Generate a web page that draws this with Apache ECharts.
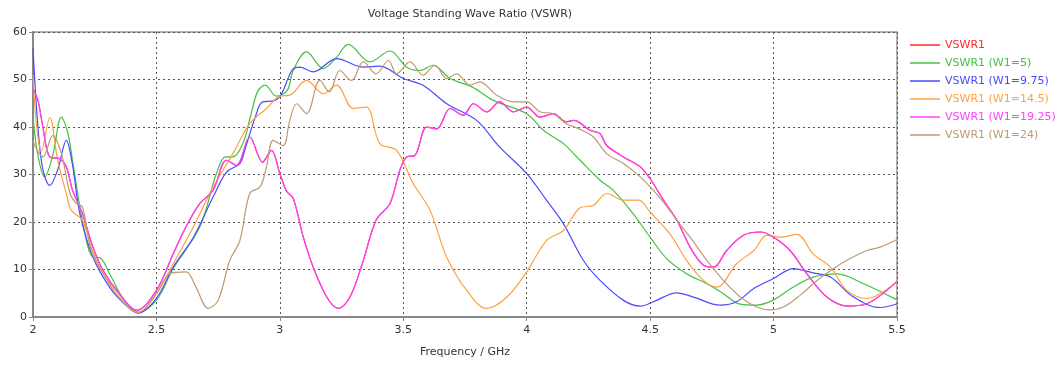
<!DOCTYPE html>
<html>
<head>
<meta charset="utf-8">
<title>VSWR</title>
<script src="https://cdn.jsdelivr.net/npm/echarts@6/dist/echarts.min.js"></script>
<style>
  html, body { margin: 0; padding: 0; background: #fff; }
  #chart { width: 1064px; height: 365px; }
</style>
</head>
<body>
<div id="chart"></div>
<script>
// 数据 (频率 GHz, VSWR) —— 从参考图读出
const xTicks = [2, 2.5, 3, 3.5, 4, 4.5, 5, 5.5];
const yTicks = [0, 10, 20, 30, 40, 50, 60];

const seriesNames = ['VSWR1', 'VSWR1 (W1=5)', 'VSWR1 (W1=9.75)', 'VSWR1 (W1=14.5)', 'VSWR1 (W1=19.25)', 'VSWR1 (W1=24)'];
const seriesColors = ['#ff2a2a', '#44c044', '#4a4aff', '#ffa040', '#ff40ff', '#c09a70'];

const w5 = [
    [2.0,42],[2.02,34],[2.047,29.5],[2.08,34],[2.115,42.1],[2.14,39],[2.16,33],[2.2,20.4],[2.243,12.6],
    [2.27,12.5],[2.31,9.1],[2.37,3.5],[2.426,1.0],[2.5,3.5],[2.568,10.2],[2.676,19],[2.743,30.2],[2.78,33.7],
    [2.81,33.7],[2.85,36.5],[2.88,42],[2.91,47.5],[2.94,48.8],[2.986,46.5],[3.03,47.7],[3.054,51.9],
    [3.108,55.8],[3.176,52.3],[3.23,54.7],[3.277,57.4],[3.365,53.7],[3.446,56],[3.514,52.6],[3.568,51.9],
    [3.62,53],[3.69,50.2],[3.78,48.4],[3.865,45.6],[4.0,42.8],[4.068,39.3],[4.149,36.5],[4.216,33],
    [4.297,28.8],[4.35,26.7],[4.43,21.8],[4.5,16.8],[4.567,12.3],[4.648,9.1],[4.73,7.0],[4.797,4.9],
    [4.865,2.7],[4.932,2.5],[5.0,3.6],[5.08,6.3],[5.16,8.4],[5.256,9.1],[5.365,7.0],[5.5,3.6]
];

const w975 = [
    [2.0,56.5],[2.02,40],[2.04,31],[2.068,27.7],[2.1,31],[2.135,37.2],[2.16,32],[2.19,21.7],[2.243,12.6],
    [2.31,6.3],[2.37,2.8],[2.426,0.8],[2.5,3.9],[2.568,10.5],[2.65,16.8],[2.73,25.3],[2.784,30.5],
    [2.838,32.3],[2.86,35.5],[2.9,42],[2.93,45.3],[2.975,45.5],[3.005,46.8],[3.05,52],[3.08,52.6],
    [3.135,51.6],[3.23,54.4],[3.338,52.6],[3.405,52.8],[3.5,50.2],[3.58,48.8],[3.676,44.9],[3.797,41.4],
    [3.89,35.8],[4.0,30.2],[4.08,24.6],[4.149,19.6],[4.23,11.9],[4.297,7.7],[4.392,3.5],[4.46,2.3],
    [4.513,3.2],[4.608,5.1],[4.675,4.2],[4.784,2.5],[4.85,3.2],[4.92,6.0],[5.0,8.1],[5.08,10.2],
    [5.16,9.3],[5.23,8.4],[5.324,4.2],[5.432,2.0],[5.5,2.8]
];

const w145 = [
    [2.0,51],[2.015,40],[2.034,35],[2.068,42],[2.1,33],[2.135,26],[2.155,22.5],[2.2,20.4],[2.236,14.7],
    [2.27,10.5],[2.324,6.3],[2.426,1.0],[2.5,4.9],[2.568,11.2],[2.65,19],[2.73,27.4],[2.81,34.4],
    [2.878,40.7],[2.946,43.9],[3.0,46.5],[3.04,46.7],[3.108,49.8],[3.176,47],[3.23,48.8],[3.297,43.9],
    [3.35,44.2],[3.405,36.5],[3.473,35.1],[3.54,28.1],[3.608,22.5],[3.676,12.6],[3.757,5.6],[3.838,1.8],
    [3.92,4.2],[4.0,9.5],[4.08,16.1],[4.149,18.2],[4.216,23],[4.27,23.5],[4.324,26],[4.392,24.6],
    [4.453,24.6],[4.5,22.1],[4.58,17.5],[4.648,11.9],[4.716,7.7],[4.77,6.3],[4.85,11.2],[4.92,14],
    [4.973,17.2],[5.027,16.8],[5.094,17.4],[5.16,13.3],[5.23,10.5],[5.297,5.6],[5.378,3.9],[5.5,7.5]
];

const w1925 = [
    [2.0,48],[2.02,45.6],[2.04,40],[2.068,33.7],[2.108,33.3],[2.135,31.6],[2.16,26.7],[2.2,21.8],
    [2.243,14.7],[2.284,9.8],[2.35,4.9],[2.42,1.4],[2.5,5.6],[2.568,13.3],[2.62,19],[2.676,23.9],
    [2.73,26.7],[2.784,33],[2.824,31.9],[2.878,37.9],[2.93,32.6],[2.966,35.1],[3.0,30.2],[3.027,26.5],
    [3.054,25],[3.095,16.8],[3.135,10.5],[3.19,4.2],[3.236,1.8],[3.284,4.2],[3.338,11.9],[3.39,20.4],
    [3.446,23.9],[3.486,30.9],[3.514,33.7],[3.547,34],[3.595,40],[3.635,39.6],[3.69,43.9],[3.743,42.5],
    [3.784,44.9],[3.838,43.2],[3.89,45.3],[3.946,43.2],[4.0,44.2],[4.054,42.1],[4.108,42.8],[4.16,41.1],
    [4.19,41.4],[4.257,39.3],[4.297,38.6],[4.324,36.1],[4.392,33.7],[4.46,31.6],[4.5,29.1],[4.554,24.6],
    [4.608,20.4],[4.662,14.7],[4.716,10.9],[4.757,10.5],[4.81,14],[4.878,17.2],[4.946,17.9],[5.0,16.8],
    [5.067,14],[5.135,9.1],[5.216,4.2],[5.297,2.3],[5.378,2.8],[5.5,7.5]
];

const w24 = [
    [2.0,37],[2.04,33.7],[2.08,38.2],[2.115,34.4],[2.15,26],[2.176,23.9],[2.2,23.2],[2.236,14],[2.284,9.1],
    [2.35,4],[2.426,1.0],[2.5,4.9],[2.554,9.1],[2.62,9.5],[2.66,6.3],[2.71,1.8],[2.75,3.5],[2.797,11.9],
    [2.838,16.1],[2.878,26],[2.92,27.4],[2.946,31.6],[2.973,37.2],[3.014,36.1],[3.04,41.4],[3.068,44.9],
    [3.108,42.8],[3.162,49.8],[3.2,47.4],[3.243,51.9],[3.29,49.8],[3.338,53.7],[3.39,51.2],[3.44,54],
    [3.473,51.2],[3.527,53.7],[3.58,50.9],[3.628,53],[3.676,50.2],[3.716,51.2],[3.77,48.8],[3.81,49.5],
    [3.878,46.7],[3.946,45.3],[4.0,45.3],[4.054,43.2],[4.108,42.8],[4.16,40.7],[4.216,39.5],[4.27,37.9],
    [4.324,34.4],[4.392,32.3],[4.46,29.5],[4.5,27.4],[4.554,24.2],[4.608,20.4],[4.662,16.8],[4.73,11.9],
    [4.797,7.7],[4.865,4.2],[4.932,2.1],[4.986,1.5],[5.04,2.1],[5.108,4.6],[5.176,7.7],[5.243,10.2],
    [5.31,12.3],[5.378,14],[5.432,14.7],[5.5,16.3]
];

// VSWR1 与 W1=19.25 基本重合，被盖在下面
const vswr1 = w1925;

const allData = [vswr1, w5, w975, w145, w1925, w24];

const chart = echarts.init(document.getElementById('chart'));

const option = {
    animation: false,
    textStyle: { fontFamily: 'DejaVu Sans' },
    title: {
        text: 'Voltage Standing Wave Ratio (VSWR)',
        left: 465,
        top: 4,
        textAlign: 'center',
        textStyle: { fontSize: 11, fontWeight: 'normal', color: '#333' }
    },
    legend: {
        orient: 'vertical',
        left: 905,
        top: 34,
        itemWidth: 30,
        itemHeight: 1.5,
        itemGap: 6,
        icon: 'rect',
        data: seriesNames.map((n, i) => ({
            name: n,
            itemStyle: { color: seriesColors[i] },
            textStyle: { color: seriesColors[i], fontSize: 11, lineHeight: 12 }
        }))
    },
    grid: {
        left: 33, right: 167, top: 32, bottom: 48,
        outerBoundsMode: 'none',
        show: true,
        borderColor: '#999',
        borderWidth: 1.5,
        backgroundColor: '#fff'
    },
    xAxis: {
        type: 'value',
        min: xTicks[0],
        max: xTicks[xTicks.length - 1],
        interval: 0.5,
        name: 'Frequency / GHz',
        nameLocation: 'middle',
        nameGap: 30,
        nameTextStyle: { fontSize: 11, color: '#333' },
        axisLine: { lineStyle: { color: '#888', width: 2 } },
        axisTick: { show: true, length: 4, lineStyle: { color: '#888' } },
        axisLabel: { color: '#333', fontSize: 11, margin: 8 },
        splitLine: { show: true, lineStyle: { color: '#555', type: [2, 3], width: 1 } }
    },
    yAxis: {
        type: 'value',
        min: yTicks[0],
        max: yTicks[yTicks.length - 1],
        interval: 10,
        axisLine: { show: true, lineStyle: { color: '#888', width: 2 } },
        axisTick: { show: true, length: 4, lineStyle: { color: '#888' } },
        axisLabel: { color: '#333', fontSize: 11, margin: 6 },
        splitLine: { show: true, lineStyle: { color: '#555', type: [2, 3], width: 1 } }
    },
    series: seriesNames.map((n, i) => ({
        name: n,
        type: 'line',
        data: allData[i],
        smooth: 0.35,
        showSymbol: false,
        symbol: 'none',
        color: seriesColors[i],
        lineStyle: { width: 1.2, color: seriesColors[i] }
    }))
};

chart.setOption(option);
</script>
</body>
</html>
